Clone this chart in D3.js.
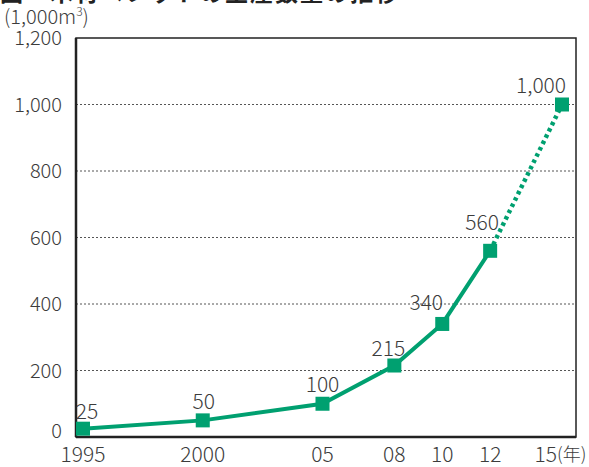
<!DOCTYPE html>
<html>
<head>
<meta charset="utf-8">
<script src="https://cdn.jsdelivr.net/npm/d3@7"></script>
<style>
  body { margin: 0; background: #fff; }
  text { font-family: "Noto Sans CJK JP", "Noto Sans", sans-serif; font-weight: 300; }
</style>
</head>
<body>
<div id="chart"></div>
<script>
// production volume (1,000m3) by year
const years = [1995, 2000, 2005, 2008, 2010, 2012, 2015];
const values = [25, 50, 100, 215, 340, 560, 1000];
const yearLabels = ["1995", "2000", "05", "08", "10", "12", "15"];
const valueLabels = ["25", "50", "100", "215", "340", "560", "1,000"];
const yTicks = [0, 200, 400, 600, 800, 1000, 1200];

const W = 589, H = 467;
const margin = { top: 38, right: 13, bottom: 29, left: 76 };
const green = "#00a070";
const textColor = "#3c3c3c";

const svg = d3.select("#chart").append("svg")
    .attr("width", W)
    .attr("height", H);

const x = d3.scaleLinear().domain([1995, 2015]).range([83, 562]);
const y = d3.scaleLinear().domain([0, 1200]).range([H - margin.bottom - 1, margin.top]);

// title, cut at the top of the picture
svg.append("text")
    .attr("x", 0)
    .attr("y", 1)
    .style("font-size", "23px")
    .style("font-weight", "bold")
    .style("letter-spacing", "2px")
    .style("fill", "#222")
    .text("図　木材ペレットの生産数量の推移");

const unit = svg.append("text")
    .attr("x", 4)
    .attr("y", 24)
    .style("font-size", "20px")
    .style("fill", textColor)
    .text("(1,000m");
unit.append("tspan")
    .attr("dy", -8)
    .style("font-size", "12px")
    .text("3");
unit.append("tspan")
    .attr("dy", 8)
    .text(")");

// grid lines
svg.selectAll("line.grid")
    .data(yTicks.filter(d => d > 0 && d < 1200))
    .enter().append("line")
    .attr("class", "grid")
    .attr("x1", margin.left)
    .attr("x2", W - margin.right)
    .attr("y1", d => y(d))
    .attr("y2", d => y(d))
    .style("stroke", "#555")
    .style("stroke-width", 1)
    .style("stroke-dasharray", "2,2");

// frame
svg.append("rect")
    .attr("x", margin.left)
    .attr("y", y(1200))
    .attr("width", W - margin.right - margin.left)
    .attr("height", y(0) - y(1200))
    .style("fill", "none")
    .style("stroke", "#222")
    .style("stroke-width", 1.5);
svg.append("line")
    .attr("x1", margin.left).attr("x2", W - margin.right)
    .attr("y1", y(0)).attr("y2", y(0))
    .style("stroke", "#222").style("stroke-width", 2.5);
svg.append("line")
    .attr("x1", margin.left).attr("x2", margin.left)
    .attr("y1", y(1200)).attr("y2", y(0))
    .style("stroke", "#222").style("stroke-width", 2.5);

// y tick labels
svg.selectAll("text.ytick")
    .data(yTicks)
    .enter().append("text")
    .attr("class", "ytick")
    .attr("x", 62)
    .attr("y", d => y(d) + (d === 0 ? 1 : 7))
    .attr("text-anchor", "end")
    .style("font-size", "20px")
    .style("fill", textColor)
    .text(d => d3.format(",")(d));

// x tick labels
svg.selectAll("text.xtick")
    .data(years)
    .enter().append("text")
    .attr("class", "xtick")
    .attr("x", (d, i) => i === years.length - 1 ? x(d) - 5 : x(d))
    .attr("y", 462)
    .attr("text-anchor", (d, i) => i === years.length - 1 ? "end" : "middle")
    .style("font-size", "21px")
    .style("fill", textColor)
    .text((d, i) => yearLabels[i]);
svg.append("text")
    .attr("x", x(2015) - 5)
    .attr("y", 461)
    .style("font-size", "18px")
    .style("fill", textColor)
    .text("(年)");

const points = years.map((yr, i) => ({ year: yr, value: values[i], label: valueLabels[i] }));
const line = d3.line().x(d => x(d.year)).y(d => y(d.value));

svg.append("path")
    .datum(points.slice(0, 6))
    .attr("d", line)
    .style("fill", "none")
    .style("stroke", green)
    .style("stroke-width", 4);

svg.append("path")
    .datum(points.slice(5))
    .attr("d", line)
    .style("fill", "none")
    .style("stroke", green)
    .style("stroke-width", 4.5)
    .style("stroke-dasharray", "3.5,3.5");

svg.selectAll("rect.marker")
    .data(points)
    .enter().append("rect")
    .attr("class", "marker")
    .attr("x", d => x(d.year) - 7)
    .attr("y", d => y(d.value) - 7)
    .attr("width", 14)
    .attr("height", 14)
    .style("fill", green);

// value labels
const labelDx = [4, 1, 0, -6, -16, -8, -21];
const labelDy = [-10, -11, -12, -10, -14, -21, -12];
svg.selectAll("text.val")
    .data(points)
    .enter().append("text")
    .attr("class", "val")
    .attr("x", (d, i) => x(d.year) + labelDx[i])
    .attr("y", (d, i) => y(d.value) + labelDy[i])
    .attr("text-anchor", "middle")
    .style("font-size", "21px")
    .style("fill", textColor)
    .text(d => d.label);
</script>
</body>
</html>
